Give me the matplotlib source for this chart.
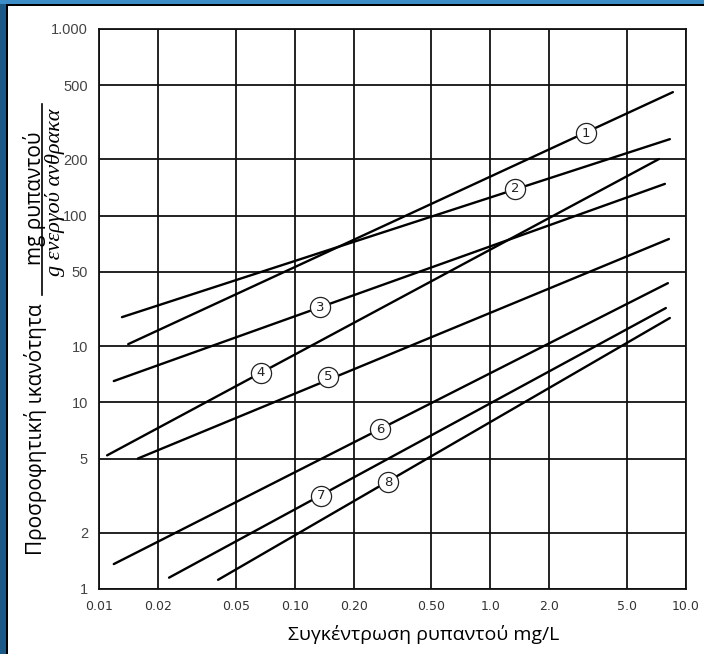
import matplotlib
matplotlib.use('Agg')
import matplotlib.pyplot as plt
from matplotlib.patches import Rectangle
from matplotlib.lines import Line2D

# άξονες (λογαριθμικοί)
x_ticks = [0.01, 0.02, 0.05, 0.10, 0.20, 0.50, 1.0, 2.0, 5.0, 10.0]
x_labels = ['0.01', '0.02', '0.05', '0.10', '0.20', '0.50', '1.0', '2.0', '5.0', '10.0']
y_ticks = [1, 2, 5, 10, 20, 50, 100, 200, 500, 1000]
y_labels = ['1', '2', '5', '10', '10', '50', '100', '200', '500', '1.000']

# ισόθερμες: αρχή και τέλος κάθε ευθείας (log-log)
curve_ids = ['1', '2', '3', '4', '5', '6', '7', '8']
x_start = [0.0141, 0.0131, 0.0119, 0.0110, 0.0158, 0.0119, 0.0228, 0.0406]
y_start = [20.5, 28.6, 13.0, 5.2, 5.0, 1.36, 1.15, 1.12]
x_end = [8.57, 8.27, 7.80, 7.27, 8.18, 8.08, 7.89, 8.27]
y_end = [459, 257, 148, 201, 75, 43.5, 32.0, 28.3]

# θέσεις των κυκλικών ετικετών
lab_x = [3.08, 1.34, 0.135, 0.0673, 0.148, 0.273, 0.136, 0.300]
lab_y = [277, 139, 32.4, 14.4, 13.7, 7.19, 3.15, 3.74]

W, H = 704, 654
fig = plt.figure(figsize=(W / 100, H / 100), dpi=100)
fig.patch.set_facecolor('white')

ax = fig.add_axes([99 / W, 1 - 589 / H, 587 / W, 560 / H])
ax.set_xscale('log')
ax.set_yscale('log')
ax.set_xlim(0.01, 10)
ax.set_ylim(1, 1000)

ax.set_xticks(x_ticks)
ax.set_xticklabels(x_labels, family=['Liberation Sans Narrow', 'DejaVu Sans'],
                   fontsize=9, color='#333333')
ax.set_yticks(y_ticks)
ax.set_yticklabels(y_labels, family=['Liberation Sans', 'DejaVu Sans'],
                   fontsize=10.5, color='#444444')
ax.minorticks_off()
ax.tick_params(axis='both', length=0)
ax.tick_params(axis='x', pad=8)
ax.tick_params(axis='y', pad=8)
ax.grid(True, which='major', color='#111111', linewidth=1.3)
for s in ax.spines.values():
    s.set_linewidth(1.3)
    s.set_color('#111111')

for i in range(len(curve_ids)):
    ax.plot([x_start[i], x_end[i]], [y_start[i], y_end[i]], color='black', linewidth=1.7,
            solid_capstyle='round', zorder=3)
    ax.plot(lab_x[i], lab_y[i], 'o', markersize=14.5, markerfacecolor='white',
            markeredgecolor='#222222', markeredgewidth=0.9, zorder=4)
    ax.text(lab_x[i], lab_y[i], curve_ids[i], ha='center', va='center', fontsize=9.5,
            family='DejaVu Sans', color='#222222', zorder=5)

# τίτλοι αξόνων
fig.text(424 / W, 1 - 634 / H, 'Συγκέντρωση ρυπαντού mg/L', ha='center', va='center',
         fontsize=14, family='Open Sans')
fig.text(36 / W, 1 - 429 / H, 'Προσροφητική ικανότητα', rotation=90, ha='center',
         va='center', fontsize=15, family='Open Sans')
fig.text(34 / W, 1 - 198 / H, 'mg ρυπαντού', rotation=90, ha='center', va='center',
         fontsize=15, family='Open Sans')
fig.add_artist(Line2D([42 / W, 42 / W], [1 - 104 / H, 1 - 295 / H], color='black',
                      linewidth=1.2, transform=fig.transFigure))
fig.text(55 / W, 1 - 192 / H, 'g ενεργού ανθρακα', rotation=90, ha='center', va='center',
         fontsize=16, family='Liberation Serif', style='italic')

# μπλε πλαίσιο (αριστερά και πάνω)
fig.add_artist(Rectangle((0, 0), 6 / W, 1, transform=fig.transFigure,
                         facecolor='#1b5a88', edgecolor='none'))
fig.add_artist(Rectangle((6 / W, 0), 2 / W, 1 - 4 / H, transform=fig.transFigure,
                         facecolor='black', edgecolor='none'))
fig.add_artist(Rectangle((0, 1 - 4 / H), 1, 4 / H, transform=fig.transFigure,
                         facecolor='#3d8ec6', edgecolor='none'))
fig.add_artist(Rectangle((6 / W, 1 - 6 / H), 1, 2 / H, transform=fig.transFigure,
                         facecolor='black', edgecolor='none'))

fig.savefig('out.png', dpi=100)
